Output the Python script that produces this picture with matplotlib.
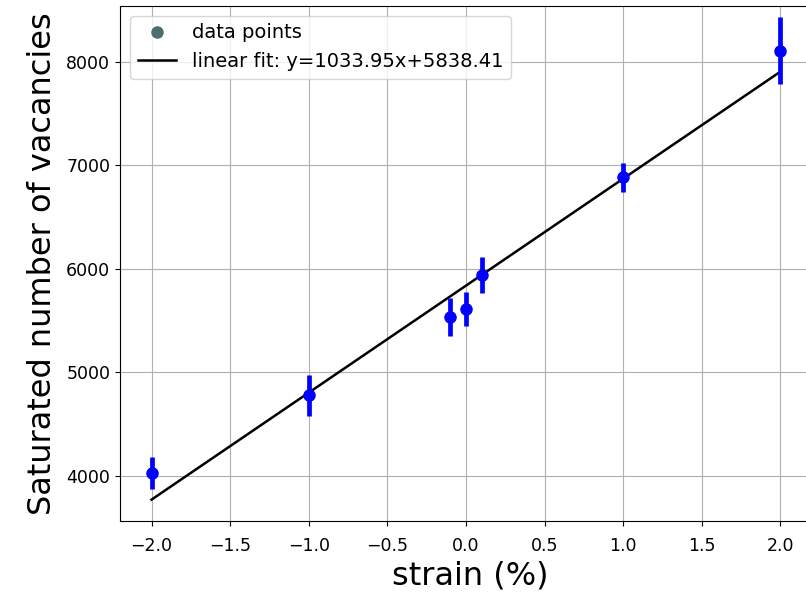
import matplotlib
matplotlib.use("Agg")
import matplotlib.pyplot as plt
import numpy as np
from matplotlib.lines import Line2D

# strain (%) and saturated vacancy counts
strain = [-2.0, -1.0, -0.1, 0.0, 0.1, 1.0, 2.0]
vacancies = [4029, 4778, 5536, 5613, 5942, 6884, 8110]
vac_err = [155, 200, 185, 165, 170, 140, 320]

SLOPE, INTERCEPT = 1033.95, 5838.41

fig = plt.figure(figsize=(8.06, 5.96), dpi=100)
ax = fig.add_axes([0.149, 0.126, 0.87, 0.864])

ax.errorbar(strain, vacancies, yerr=vac_err, fmt="o", color="blue",
            ms=8, elinewidth=3.4, capsize=0, zorder=3)
xs = np.array(strain)
ax.plot(xs, SLOPE * xs + INTERCEPT, color="black", lw=1.8, zorder=2)

ax.set_xlim(-2.2, 2.26)
ax.set_ylim(3565, 8541)
ax.grid(True, color="#b0b0b0", lw=0.8)
ax.set_xticks(np.arange(-2.0, 2.01, 0.5))
ax.tick_params(labelsize=12.5)
ax.tick_params(axis="x", pad=8)
ax.set_xlabel("strain (%)", fontsize=23, labelpad=4)
ax.set_ylabel("Saturated number of vacancies", fontsize=23, labelpad=6)

handles = [
    Line2D([], [], ls="none", marker="o", color="#4f6d6d", ms=8),
    Line2D([], [], color="black", lw=1.8),
]
labels = ["data points", f"linear fit: y={SLOPE:.2f}x+{INTERCEPT:.2f}"]
ax.legend(handles, labels, loc="upper left", fontsize=14, framealpha=0.8)

fig.savefig("out.png", dpi=100)
